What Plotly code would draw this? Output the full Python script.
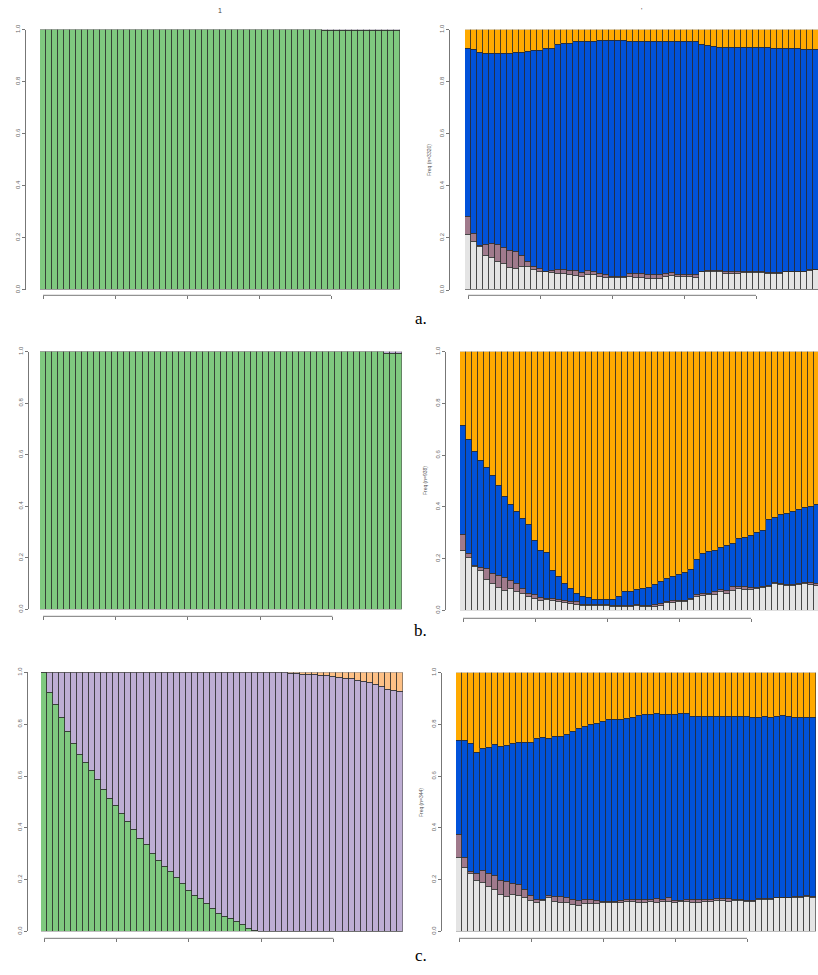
import plotly.graph_objects as go

W, H = 818, 975
N = 60
bars = list(range(N))
tick_bars = [0, 12, 24, 36, 48]
y_ticks = [0.0, 0.2, 0.4, 0.6, 0.8, 1.0]
y_ticktext = ["0.0", "0.2", "0.4", "0.6", "0.8", "1.0"]

# ---- colours ----
GREEN = "#7FC97F"
LAVENDER = "#BEAED4"
PEACH = "#FDC086"
GREY = "#E4E4E4"
MAUVE = "#A07A8C"
BLUE = "#0152DA"
ORANGE = "#FFAA00"

# ---- row a ----
a_left_minor = [0.0] * 47 + [0.003] * 13
a_left_green = [1 - v for v in a_left_minor]

a_grey = [0.213, 0.187, 0.165, 0.133, 0.123, 0.110, 0.102, 0.085, 0.080, 0.091,
          0.091, 0.076, 0.072, 0.070, 0.066, 0.063, 0.063, 0.060, 0.053, 0.051,
          0.057, 0.057, 0.051, 0.047, 0.047, 0.047, 0.047, 0.051, 0.048, 0.048,
          0.044, 0.044, 0.044, 0.051, 0.053, 0.051, 0.051, 0.051, 0.048, 0.070,
          0.070, 0.070, 0.070, 0.063, 0.063, 0.063, 0.066, 0.066, 0.066, 0.066,
          0.063, 0.063, 0.063, 0.070, 0.070, 0.070, 0.070, 0.074, 0.076, 0.078]
a_mauve = [0.070, 0.029, 0.006, 0.041, 0.053, 0.064, 0.059, 0.067, 0.066, 0.042,
           0.017, 0.015, 0.010, 0.002, 0.008, 0.016, 0.016, 0.014, 0.021, 0.015,
           0.017, 0.013, 0.012, 0.010, 0.004, 0.003, 0.004, 0.010, 0.013, 0.013,
           0.016, 0.016, 0.016, 0.012, 0.013, 0.009, 0.009, 0.009, 0.009, 0.002,
           0.004, 0.004, 0.004, 0.009, 0.009, 0.009, 0.005, 0.005, 0.005, 0.005,
           0.003, 0.003, 0.003, 0.002, 0.002, 0.002, 0.002, 0.002, 0.002, 0.002]
a_orange = [0.074, 0.077, 0.089, 0.091, 0.092, 0.093, 0.093, 0.093, 0.090, 0.090,
            0.084, 0.080, 0.080, 0.074, 0.074, 0.057, 0.052, 0.052, 0.048, 0.048,
            0.048, 0.048, 0.044, 0.044, 0.044, 0.043, 0.041, 0.045, 0.046, 0.046,
            0.046, 0.046, 0.046, 0.046, 0.046, 0.046, 0.046, 0.046, 0.046, 0.058,
            0.063, 0.067, 0.068, 0.069, 0.070, 0.070, 0.071, 0.071, 0.071, 0.071,
            0.071, 0.073, 0.073, 0.073, 0.073, 0.073, 0.075, 0.076, 0.077, 0.077]

# ---- row b ----
b_left_minor = [0.0] * 57 + [0.006] * 3
b_left_green = [1 - v for v in b_left_minor]

b_grey = [0.232, 0.202, 0.169, 0.153, 0.117, 0.102, 0.089, 0.077, 0.083, 0.073,
          0.064, 0.051, 0.045, 0.038, 0.042, 0.038, 0.032, 0.028, 0.026, 0.023,
          0.019, 0.017, 0.017, 0.017, 0.017, 0.015, 0.015, 0.015, 0.015, 0.017,
          0.015, 0.013, 0.015, 0.019, 0.028, 0.031, 0.032, 0.034, 0.041, 0.054,
          0.057, 0.060, 0.061, 0.070, 0.066, 0.077, 0.083, 0.080, 0.080, 0.083,
          0.089, 0.092, 0.102, 0.098, 0.096, 0.094, 0.098, 0.102, 0.100, 0.096]
b_mauve = [0.061, 0.018, 0.004, 0.013, 0.042, 0.041, 0.045, 0.049, 0.032, 0.029,
           0.019, 0.015, 0.017, 0.010, 0.003, 0.005, 0.009, 0.008, 0.009, 0.009,
           0.003, 0.003, 0.003, 0.003, 0.003, 0.003, 0.003, 0.003, 0.003, 0.003,
           0.004, 0.004, 0.006, 0.006, 0.006, 0.005, 0.006, 0.004, 0.004, 0.008,
           0.009, 0.006, 0.009, 0.009, 0.010, 0.013, 0.010, 0.011, 0.009, 0.006,
           0.004, 0.003, 0.003, 0.004, 0.004, 0.005, 0.006, 0.005, 0.005, 0.006]
b_orange = [0.285, 0.342, 0.387, 0.420, 0.450, 0.480, 0.520, 0.560, 0.590, 0.620,
            0.645, 0.668, 0.732, 0.768, 0.777, 0.847, 0.872, 0.898, 0.917, 0.936,
            0.946, 0.953, 0.958, 0.959, 0.959, 0.958, 0.946, 0.930, 0.927, 0.920,
            0.917, 0.911, 0.902, 0.891, 0.879, 0.872, 0.863, 0.853, 0.844, 0.806,
            0.783, 0.773, 0.768, 0.757, 0.751, 0.742, 0.725, 0.719, 0.710, 0.700,
            0.693, 0.650, 0.640, 0.630, 0.625, 0.620, 0.610, 0.605, 0.600, 0.590]

# ---- row c ----
c_left_green = [1.0, 0.923, 0.876, 0.825, 0.772, 0.726, 0.682, 0.653, 0.620, 0.585,
                0.550, 0.515, 0.485, 0.455, 0.425, 0.395, 0.358, 0.334, 0.302, 0.273,
                0.251, 0.232, 0.209, 0.184, 0.158, 0.140, 0.126, 0.107, 0.089, 0.069,
                0.057, 0.050, 0.038, 0.026, 0.013, 0.003, 0.0, 0.0, 0.0, 0.0,
                0.0, 0.0, 0.0, 0.0, 0.0, 0.0, 0.0, 0.0, 0.0, 0.0,
                0.0, 0.0, 0.0, 0.0, 0.0, 0.0, 0.0, 0.0, 0.0, 0.0]
c_left_peach = [0.0] * 40 + [0.001, 0.002, 0.004, 0.006, 0.007, 0.009, 0.011, 0.013,
                             0.015, 0.018, 0.022, 0.025, 0.030, 0.034, 0.040, 0.047,
                             0.055, 0.064, 0.069, 0.073]
c_left_lav = [1 - g - p for g, p in zip(c_left_green, c_left_peach)]

c_grey = [0.284, 0.245, 0.223, 0.194, 0.188, 0.171, 0.162, 0.140, 0.134, 0.140,
          0.137, 0.130, 0.120, 0.111, 0.120, 0.128, 0.115, 0.111, 0.110, 0.101,
          0.098, 0.105, 0.105, 0.105, 0.110, 0.110, 0.111, 0.110, 0.114, 0.114,
          0.111, 0.111, 0.114, 0.111, 0.114, 0.115, 0.111, 0.114, 0.114, 0.111,
          0.110, 0.114, 0.114, 0.117, 0.117, 0.115, 0.117, 0.117, 0.115, 0.115,
          0.123, 0.123, 0.123, 0.128, 0.128, 0.128, 0.130, 0.130, 0.133, 0.130]
c_mauve = [0.091, 0.038, 0.009, 0.029, 0.045, 0.052, 0.054, 0.057, 0.056, 0.045,
           0.045, 0.029, 0.019, 0.013, 0.004, 0.011, 0.018, 0.022, 0.018, 0.023,
           0.022, 0.019, 0.019, 0.013, 0.004, 0.004, 0.004, 0.008, 0.010, 0.010,
           0.013, 0.013, 0.010, 0.015, 0.010, 0.013, 0.006, 0.004, 0.010, 0.013,
           0.014, 0.010, 0.010, 0.009, 0.010, 0.011, 0.006, 0.006, 0.003, 0.003,
           0.002, 0.002, 0.003, 0.002, 0.003, 0.002, 0.003, 0.003, 0.006, 0.002]
c_orange = [0.263, 0.263, 0.274, 0.308, 0.292, 0.290, 0.280, 0.286, 0.282, 0.276,
            0.269, 0.269, 0.269, 0.257, 0.250, 0.257, 0.248, 0.248, 0.238, 0.229,
            0.218, 0.209, 0.203, 0.199, 0.189, 0.180, 0.180, 0.181, 0.176, 0.174,
            0.167, 0.161, 0.161, 0.157, 0.161, 0.162, 0.161, 0.157, 0.157, 0.171,
            0.172, 0.172, 0.172, 0.172, 0.172, 0.172, 0.172, 0.172, 0.172, 0.175,
            0.174, 0.171, 0.174, 0.170, 0.167, 0.170, 0.174, 0.175, 0.175, 0.175]


def remainder(*parts):
    return [1 - sum(p) for p in zip(*parts)]


a_blue = remainder(a_grey, a_mauve, a_orange)
b_blue = remainder(b_grey, b_mauve, b_orange)
c_blue = remainder(c_grey, c_mauve, c_orange)

# panel geometry in page pixels: bar left edge, bar width, y of 1.0, y of 0.0,
# y-axis line x, x-axis line y
panels = [
    dict(series=[(a_left_green, GREEN), (a_left_minor, LAVENDER)],
         left=40, bw=6.0, top=24, bottom=286.5, yax=25, xax=292, title="1", ylab=None),
    dict(series=[(a_grey, GREY), (a_mauve, MAUVE), (a_blue, BLUE), (a_orange, ORANGE)],
         left=465, bw=6.0, top=24, bottom=286.7, yax=449, xax=292, title="'", ylab="Freq (n=3320)"),
    dict(series=[(b_left_green, GREEN), (b_left_minor, LAVENDER)],
         left=40, bw=6.03, top=349, bottom=609, yax=28, xax=616, title=None, ylab=None),
    dict(series=[(b_grey, GREY), (b_mauve, MAUVE), (b_blue, BLUE), (b_orange, ORANGE)],
         left=460, bw=6.0, top=349, bottom=610, yax=445, xax=618, title=None, ylab="Freq (n=938)"),
    dict(series=[(c_left_green, GREEN), (c_left_lav, LAVENDER), (c_left_peach, PEACH)],
         left=41, bw=6.03, top=672.7, bottom=934, yax=27, xax=941, title=None, ylab=None),
    dict(series=[(c_grey, GREY), (c_mauve, MAUVE), (c_blue, BLUE), (c_orange, ORANGE)],
         left=456, bw=6.0, top=673, bottom=934, yax=441, xax=941, title=None, ylab="Freq (n=344)"),
]

fig = go.Figure()
layout = dict(width=W, height=H, margin=dict(l=0, r=0, t=0, b=0),
              paper_bgcolor="white", plot_bgcolor="white", barmode="stack",
              showlegend=False, bargap=0)
shapes, annotations = [], []

for i, p in enumerate(panels, start=1):
    xs = "" if i == 1 else str(i)
    right_px = min(W, p["left"] + N * p["bw"])
    x_end = -0.5 + (right_px - p["left"]) / p["bw"]
    for vals, col in p["series"]:
        fig.add_trace(go.Bar(x=bars, y=vals, width=1.0, marker=dict(
            color=col, line=dict(color="#2a2a2a", width=0.6)),
            xaxis="x" + xs, yaxis="y" + xs, hoverinfo="skip"))
    layout["xaxis" + xs] = dict(
        domain=[p["left"] / W, right_px / W], range=[-0.5, x_end],
        anchor="free", position=(H - p["xax"]) / H,
        tickvals=tick_bars, ticks="outside", ticklen=3, tickcolor="#777",
        showticklabels=False, showline=False, showgrid=False, zeroline=False)
    layout["yaxis" + xs] = dict(
        domain=[(H - p["bottom"]) / H, (H - p["top"]) / H], range=[0, 1],
        anchor="free", position=p["yax"] / W,
        tickvals=y_ticks, ticktext=y_ticktext, tickangle=-90,
        ticks="outside", ticklen=3, tickcolor="#777",
        tickfont=dict(size=6, color="#666", family="Liberation Sans"),
        showline=True, linecolor="#777", linewidth=1,
        showgrid=False, zeroline=False)
    # x axis line between first and last tick
    shapes.append(dict(type="line", xref="x" + xs, yref="paper",
                       x0=tick_bars[0], x1=tick_bars[-1],
                       y0=(H - p["xax"]) / H, y1=(H - p["xax"]) / H,
                       line=dict(color="#777", width=1)))
    if p["title"]:
        annotations.append(dict(text=p["title"], xref="paper", yref="paper",
                                x=(p["left"] + (right_px - p["left"]) / 2) / W,
                                y=(H - 5) / H, xanchor="center", yanchor="middle",
                                showarrow=False,
                                font=dict(size=7, color="#444", family="Liberation Sans")))
    if p["ylab"]:
        annotations.append(dict(text=p["ylab"], xref="paper", yref="paper",
                                x=(p["yax"] - 20) / W,
                                y=(H - (p["top"] + p["bottom"]) / 2) / H,
                                xanchor="center", yanchor="middle",
                                textangle=-90, showarrow=False,
                                font=dict(size=5, color="#555", family="Liberation Sans")))

for lab, ypx in [("a.", 315), ("b.", 630), ("c.", 958)]:
    annotations.append(dict(text=lab, xref="paper", yref="paper", x=421 / W,
                            y=(H - ypx) / H, xanchor="center", yanchor="middle",
                            showarrow=False,
                            font=dict(size=17, color="black", family="Liberation Serif")))

layout["shapes"] = shapes
layout["annotations"] = annotations
fig.update_layout(**layout)
fig.write_html("out.html")
